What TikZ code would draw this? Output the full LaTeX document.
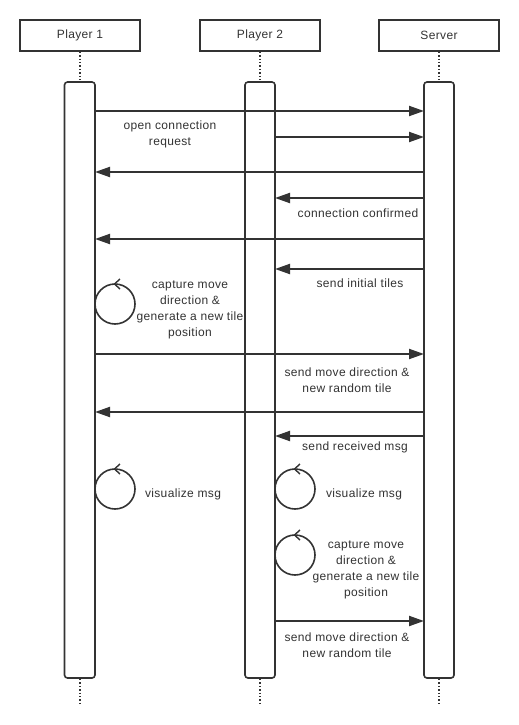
\documentclass[tikz,border=0pt]{standalone}
\usepackage{fontspec}
\setmainfont[LetterSpace=3]{Liberation Sans}
\usetikzlibrary{arrows.meta}
\definecolor{ink}{HTML}{333333}
\begin{document}
\begin{tikzpicture}[x=1pt,y=-1pt,
  actor/.style={draw=ink,line width=1.6pt,fill=white,minimum width=120pt,minimum height=31pt,inner sep=0pt,font=\fontsize{12}{14}\selectfont,text=ink},
  bar/.style={draw=ink,line width=1.6pt,fill=white,rounded corners=3pt},
  life/.style={draw=ink,line width=1.4pt,dotted},
  msg/.style={draw=ink,line width=2pt,-{Triangle[length=15pt,width=10pt]}},
  lbl/.style={font=\fontsize{12}{16}\selectfont,text=ink,align=center,inner sep=0pt},
  loopc/.style={draw=ink,line width=1.6pt,circle,minimum size=40pt,inner sep=0pt},
  chev/.style={draw=ink,line width=1.4pt}
]
\useasboundingbox (0,0) rectangle (519,725);
\fill[white] (0,0) rectangle (519,725);
% actors
\node[actor] (p1) at (80,35.5) {Player 1};
\node[actor] (p2) at (260,35.5) {Player 2};
\node[actor] (sv) at (439,35.5) {Server};
% lifelines
\coordinate (p1b) at (80,82); \coordinate (p1e) at (80,706);
\coordinate (p2b) at (260,82); \coordinate (p2e) at (260,706);
\coordinate (svb) at (439,82); \coordinate (sve) at (439,706);
\draw[life] (p1.south) -- (p1b);
\draw[life] (p2.south) -- (p2b);
\draw[life] (sv.south) -- (svb);
\draw[life] (80,679) -- (p1e);
\draw[life] (260,679) -- (p2e);
\draw[life] (439,679) -- (sve);
% activation bars
\draw[bar] (64.5,82) rectangle (95,678);
\draw[bar] (245,82) rectangle (275,678);
\draw[bar] (424,82) rectangle (454,678);
% message end points
\foreach \n/\y in {a/111,b/137,c/172,d/198,e/239,f/269,g/354,h/412,i/436,j/621}{
  \coordinate (L\n) at (95,\y);
  \coordinate (M\n) at (275,\y);
  \coordinate (R\n) at (424,\y);
}
\draw[msg] (La) -- (Ra);
\node[lbl] (ta) at (170,134.5) {open connection\\request};
\draw[msg] (Mb) -- (Rb);
\draw[msg] (Rc) -- (Lc);
\draw[msg] (Rd) -- (Md);
\node[lbl] (td) at (358,213) {connection confirmed};
\draw[msg] (Re) -- (Le);
\draw[msg] (Rf) -- (Mf);
\node[lbl] (tf) at (360,283) {send initial tiles};
% self loop player 1
\node[loopc] (c1) at (115,304) {};
\draw[chev] (120,279) -- (114.5,284) -- (120,289);
\node[lbl] (t1) at (190,310) {capture move\\direction \&\\generate a new tile\\position};
\draw[msg] (Lg) -- (Rg);
\node[lbl] (tg) at (347,380) {send move direction \&\\new random tile};
\draw[msg] (Rh) -- (Lh);
\draw[msg] (Ri) -- (Mi);
\node[lbl] (ti) at (355,447) {send received msg};
% visualize loops
\node[loopc] (c2) at (115,489) {};
\draw[chev] (120,464) -- (114.5,469) -- (120,474);
\node[lbl] (t2) at (183,494) {visualize msg};
\node[loopc] (c3) at (295,489) {};
\draw[chev] (300,464) -- (294.5,469) -- (300,474);
\node[lbl] (t3) at (364,494) {visualize msg};
\node[loopc] (c4) at (295,555) {};
\draw[chev] (300,530) -- (294.5,535) -- (300,540);
\node[lbl] (t4) at (366,570) {capture move\\direction \&\\generate a new tile\\position};
\draw[msg] (Mj) -- (Rj);
\node[lbl] (tj) at (347,645) {send move direction \&\\new random tile};
\end{tikzpicture}
\end{document}
